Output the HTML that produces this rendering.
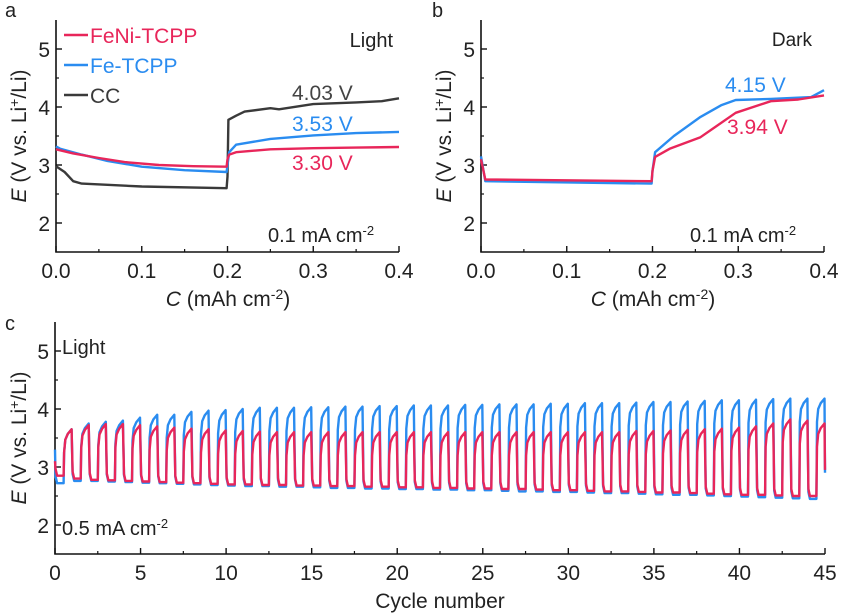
<!DOCTYPE html>
<html><head><meta charset="utf-8">
<style>
body{margin:0;background:#fff;}
svg{display:block;font-family:"Liberation Sans",Arial,sans-serif;}
</style></head>
<body>
<svg id="fig" width="845" height="614" viewBox="0 0 845 614"></svg>
<script>
// ---- data ----
const aFeNiC=[0,0.02,0.05,0.08,0.12,0.16,0.199,0.2,0.202,0.21,0.25,0.3,0.35,0.4];
const aFeNiE=[3.27,3.2,3.12,3.05,3.0,2.98,2.97,3.1,3.18,3.22,3.27,3.29,3.3,3.31];
const aFeC=[0,0.005,0.03,0.06,0.1,0.15,0.199,0.2,0.202,0.21,0.25,0.3,0.35,0.4];
const aFeE=[3.32,3.28,3.18,3.07,2.97,2.91,2.88,3.0,3.22,3.35,3.45,3.51,3.55,3.57];
const aCCC=[0,0.01,0.02,0.03,0.1,0.199,0.2,0.201,0.21,0.22,0.25,0.26,0.3,0.35,0.38,0.4];
const aCCE=[2.98,2.88,2.72,2.68,2.63,2.6,2.8,3.78,3.85,3.92,3.98,3.96,4.05,4.08,4.1,4.15];
const bFeNiC=[0,0.005,0.199,0.2,0.203,0.22,0.256,0.297,0.338,0.37,0.4];
const bFeNiE=[3.1,2.75,2.72,2.9,3.14,3.28,3.48,3.9,4.1,4.13,4.2];
const bFeC=[0,0.005,0.199,0.2,0.203,0.225,0.256,0.28,0.297,0.338,0.385,0.4];
const bFeE=[3.15,2.72,2.68,2.9,3.22,3.5,3.83,4.03,4.12,4.14,4.17,4.29];
const cBluePeak=[3.65,3.75,3.78,3.8,3.85,3.9,3.9,3.95,3.97,3.98,4.0,4.02,4.02,4.02,4.03,4.03,4.04,4.04,4.05,4.05,4.06,4.06,4.06,4.07,4.07,4.08,4.08,4.08,4.09,4.09,4.1,4.1,4.1,4.11,4.12,4.12,4.13,4.14,4.15,4.15,4.16,4.17,4.18,4.18,4.18];
const cBlueLow=[2.72,2.76,2.76,2.75,2.74,2.73,2.72,2.71,2.7,2.69,2.68,2.67,2.67,2.66,2.66,2.65,2.64,2.64,2.63,2.63,2.62,2.62,2.61,2.61,2.6,2.6,2.59,2.58,2.58,2.57,2.57,2.56,2.55,2.55,2.54,2.53,2.52,2.52,2.51,2.5,2.49,2.48,2.47,2.46,2.45];
const cRedPeak=[3.65,3.72,3.74,3.74,3.72,3.7,3.68,3.66,3.65,3.63,3.62,3.61,3.6,3.6,3.6,3.6,3.6,3.6,3.6,3.6,3.6,3.6,3.6,3.6,3.6,3.6,3.6,3.6,3.6,3.6,3.6,3.6,3.6,3.62,3.62,3.63,3.64,3.65,3.66,3.68,3.7,3.75,3.82,3.8,3.75];
const cRedLow=[2.85,2.8,2.78,2.77,2.76,2.75,2.74,2.73,2.72,2.71,2.7,2.7,2.69,2.69,2.68,2.68,2.67,2.67,2.66,2.66,2.65,2.65,2.64,2.64,2.63,2.63,2.62,2.62,2.61,2.6,2.6,2.59,2.58,2.58,2.57,2.56,2.56,2.55,2.54,2.53,2.52,2.52,2.51,2.5,2.5];
const aXTicks=[0,0.1,0.2,0.3,0.4];
const cXTicks=[0,5,10,15,20,25,30,35,40,45];
const yTicks=[2,3,4,5];

const RED="#e8265a",BLUE="#2a8cf0",GRAY="#3a3a3a";
const svg=document.getElementById('fig');
const NS="http://www.w3.org/2000/svg";
function el(t,a,parent){const e=document.createElementNS(NS,t);for(const k in a)e.setAttribute(k,a[k]);(parent||svg).appendChild(e);return e;}
function txt(x,y,s,size,fill,anchor,name){const t=el('text',{x:x,y:y,'font-size':size,fill:fill||'#222','text-anchor':anchor||'start'});t.innerHTML=s;


return t;}

function panel(name,L,R,T,B,xmin,xmax,ymin,ymax,xticks,xminor,tickFmt){
  const g=el('g',{});
  
  
  const sx=v=>L+(v-xmin)/(xmax-xmin)*(R-L);
  const sy=v=>B-(v-ymin)/(ymax-ymin)*(B-T);
  const ax=el('path',{d:`M${L},${T}V${B}H${R}`,fill:'none',stroke:'#111','stroke-width':1.6},g);
  
  
  xticks.forEach(v=>{el('line',{x1:sx(v),x2:sx(v),y1:B,y2:B-6,stroke:'#111','stroke-width':1.4},g);
    const t=txt(sx(v),B+26,tickFmt(v),21,'#222','middle','x-tick-label');g.appendChild(t);});
  for(let i=0;i<xticks.length-1;i++){const m=(xticks[i]+xticks[i+1])/2;el('line',{x1:sx(m),x2:sx(m),y1:B,y2:B-3,stroke:'#111','stroke-width':1.2},g);}
  yTicks.forEach(v=>{el('line',{x1:L,x2:L+6,y1:sy(v),y2:sy(v),stroke:'#111','stroke-width':1.4},g);
    const t=txt(L-6,sy(v)+8,String(v),21,'#222','end','y-tick-label');g.appendChild(t);});
  [2.5,3.5,4.5].forEach(v=>el('line',{x1:L,x2:L+3,y1:sy(v),y2:sy(v),stroke:'#111','stroke-width':1.2},g));
  return {g,sx,sy};
}
function line(p,xs,ys,color,name){
  const d=xs.map((x,i)=>(i?'L':'M')+p.sx(x).toFixed(1)+','+p.sy(ys[i]).toFixed(1)).join('');
  const e=el('path',{d:d,fill:'none',stroke:color,'stroke-width':2.4,'stroke-linejoin':'round'},p.g);
  
  
}
function ylabel(x,cy){
  const t=el('text',{x:0,y:0,'font-size':21,fill:'#222','text-anchor':'middle',transform:`translate(${x},${cy}) rotate(-90)`});
  t.innerHTML='<tspan font-style="italic">E</tspan> (V vs. Li<tspan dy="-7" font-size="14">+</tspan><tspan dy="7">/Li)</tspan>';
  
  
}
const f1=v=>v.toFixed(1);

// Panel a
const pa=panel('panel-a',56,399,20,252,0,0.4,1.5,5.5,aXTicks,true,f1);
line(pa,aCCC,aCCE,GRAY,'cc-curve');
line(pa,aFeC,aFeE,BLUE,'fe-tcpp-curve');
line(pa,aFeNiC,aFeNiE,RED,'feni-tcpp-curve');
txt(5,17,'a',20,'#222','start','panel-label-a');
ylabel(26,136);
const xa=txt(228,306,'',21,'#222','middle','x-axis-title');xa.innerHTML='<tspan font-style="italic">C</tspan> (mAh cm<tspan dy="-7" font-size="14">-2</tspan><tspan dy="7">)</tspan>';
[[RED,'FeNi-TCPP',43],[BLUE,'Fe-TCPP',73],[GRAY,'CC',103]].forEach(([c,s,y])=>{
  const l=el('line',{x1:64,x2:88,y1:y-8,y2:y-8,stroke:c,'stroke-width':2.6});
  
  txt(90,y,s,21,c,'start','legend-entry');});
txt(393,47,'Light',20,'#222','end','condition-label-a');
txt(292,100,'4.03 V',21,'#444','start','cc-voltage-label');
txt(292,131,'3.53 V',21,BLUE,'start','fe-voltage-label');
txt(292,170,'3.30 V',21,RED,'start','feni-voltage-label');
const ca=txt(268,242,'',20,'#222','start','current-density-a');ca.innerHTML='0.1 mA cm<tspan dy="-7" font-size="13">-2</tspan>';

// Panel b
const pb=panel('panel-b',481,824,20,252,0,0.4,1.5,5.5,aXTicks,true,f1);
line(pb,bFeC,bFeE,BLUE,'fe-tcpp-curve-dark');
line(pb,bFeNiC,bFeNiE,RED,'feni-tcpp-curve-dark');
txt(432,17,'b',20,'#222','start','panel-label-b');
ylabel(451,136);
const xb=txt(653,306,'',21,'#222','middle','x-axis-title-b');xb.innerHTML='<tspan font-style="italic">C</tspan> (mAh cm<tspan dy="-7" font-size="14">-2</tspan><tspan dy="7">)</tspan>';
txt(812,46,'Dark',19,'#222','end','condition-label-b');
txt(725,92,'4.15 V',21,BLUE,'start','fe-voltage-label-dark');
txt(727,134,'3.94 V',21,RED,'start','feni-voltage-label-dark');
const cb=txt(690,242,'',20,'#222','start','current-density-b');cb.innerHTML='0.1 mA cm<tspan dy="-7" font-size="13">-2</tspan>';

// Panel c
const pc=panel('panel-c',55,825,322,554,0,45,1.5,5.5,cXTicks,true,v=>String(v));
function cycles(peaks,lows,start){
  const xs=[0],ys=[start];
  for(let i=0;i<peaks.length;i++){
    const lo=lows[i],pk=peaks[i];
    xs.push(i+0.03,i+0.12,i+0.5,i+0.53,i+0.6,i+0.75,i+0.97);
    ys.push(lo+0.12,lo,lo,pk-0.4,pk-0.18,pk-0.08,pk);
  }
  xs.push(45);ys.push(lows[lows.length-1]+0.45);
  return [xs,ys];
}
const cb1=cycles(cBluePeak,cBlueLow,3.3),cr1=cycles(cRedPeak,cRedLow,3.1);
line(pc,cb1[0],cb1[1],BLUE,'fe-tcpp-cycling');
line(pc,cr1[0],cr1[1],RED,'feni-tcpp-cycling');
txt(5,330,'c',20,'#222','start','panel-label-c');
ylabel(26,438);
txt(440,608,'Cycle number',21,'#222','middle','x-axis-title-c');
txt(62,354,'Light',20,'#222','start','condition-label-c');
const cc=txt(62,535,'',20,'#222','start','current-density-c');cc.innerHTML='0.5 mA cm<tspan dy="-7" font-size="13">-2</tspan>';
</script>
</body></html>
